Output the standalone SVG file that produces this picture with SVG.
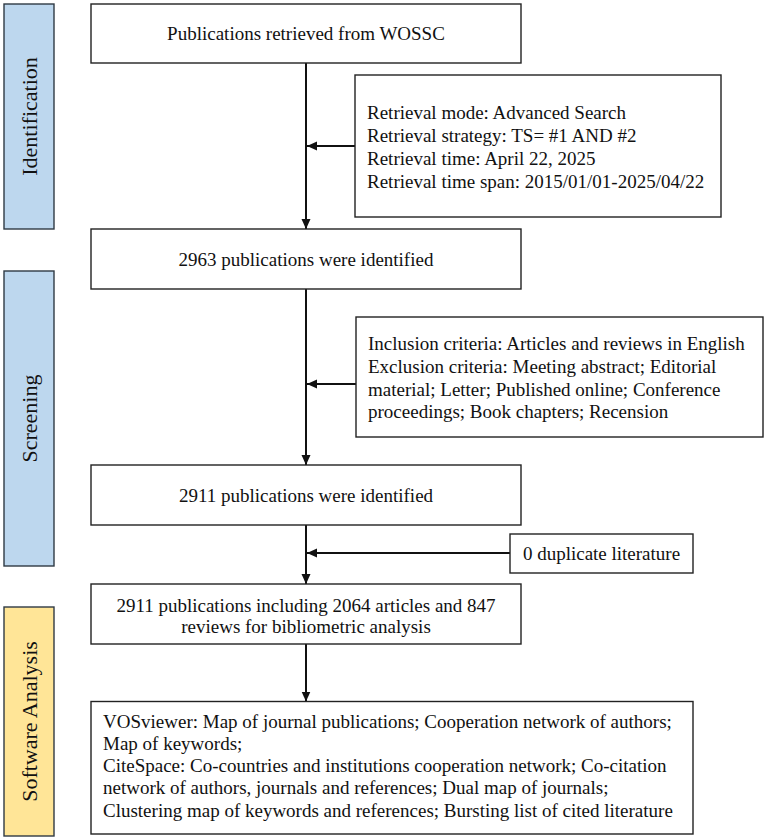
<svg xmlns="http://www.w3.org/2000/svg" width="767" height="838" viewBox="0 0 767 838">
<style>
text { font-family: "Liberation Serif", "Times New Roman", serif; font-size: 19px; fill: #111; }
.box { fill: #fff; stroke: #222; stroke-width: 1.4; }
.bar { stroke: #2f3a44; stroke-width: 1.4; }
.blue { fill: #bdd7ee; }
.yellow { fill: #ffe597; }
.lbl { font-size: 22px; text-anchor: middle; }
.c { text-anchor: middle; }
.conn { stroke: #111; stroke-width: 2; fill: none; marker-end: url(#ah); }
</style>
<defs>
<marker id="ah" markerUnits="userSpaceOnUse" markerWidth="10" markerHeight="10" viewBox="0 0 10 10" refX="10" refY="5" orient="auto">
<path d="M0,0.5 L10,5 L0,9.5 Z" fill="#111"/>
</marker>
</defs>
<rect width="767" height="838" fill="#fff"/>

<g id="stage-identification">
<rect class="bar blue" x="4" y="4" width="50" height="225"/>
<text class="lbl" transform="translate(36.5,116.5) rotate(-90)">Identification</text>
</g>
<g id="stage-screening">
<rect class="bar blue" x="4" y="271" width="50" height="295"/>
<text class="lbl" transform="translate(36.5,418.5) rotate(-90)">Screening</text>
</g>
<g id="stage-software">
<rect class="bar yellow" x="4" y="607" width="50" height="229"/>
<text class="lbl" transform="translate(36.5,721.5) rotate(-90)">Software Analysis</text>
</g>

<g id="connectors">
<line class="conn" x1="306" y1="63" x2="306" y2="229"/>
<line class="conn" x1="355" y1="146" x2="307" y2="146"/>
<line class="conn" x1="306" y1="289" x2="306" y2="465"/>
<line class="conn" x1="356" y1="384" x2="307" y2="384"/>
<line class="conn" x1="306" y1="525" x2="306" y2="584"/>
<line class="conn" x1="510" y1="553" x2="307" y2="553"/>
<line class="conn" x1="306" y1="644" x2="306" y2="701.5"/>
</g>

<g id="n-retrieved">
<rect class="box" x="91" y="4" width="430" height="59"/>
<text class="c" x="306" y="40">Publications retrieved from WOSSC</text>
</g>
<g id="n-retrieval-info">
<rect class="box" x="355" y="75" width="366" height="142"/>
<text x="367" y="119">Retrieval mode: Advanced Search</text>
<text x="367" y="142">Retrieval strategy: TS= #1 AND #2</text>
<text x="367" y="165">Retrieval time: April 22, 2025</text>
<text x="367" y="187.5">Retrieval time span: 2015/01/01-2025/04/22</text>
</g>
<g id="n-2963">
<rect class="box" x="91" y="229" width="430" height="60"/>
<text class="c" x="306" y="266">2963 publications were identified</text>
</g>
<g id="n-criteria">
<rect class="box" x="356" y="317" width="407" height="120"/>
<text x="368" y="350">Inclusion criteria: Articles and reviews in English</text>
<text x="368" y="373">Exclusion criteria: Meeting abstract; Editorial</text>
<text x="368" y="395.5">material; Letter; Published online; Conference</text>
<text x="368" y="418">proceedings; Book chapters; Recension</text>
</g>
<g id="n-2911">
<rect class="box" x="91" y="465" width="430" height="60"/>
<text class="c" x="306" y="502">2911 publications were identified</text>
</g>
<g id="n-duplicate">
<rect class="box" x="510" y="534" width="183" height="39"/>
<text class="c" x="601.5" y="560">0 duplicate literature</text>
</g>
<g id="n-final">
<rect class="box" x="91" y="584" width="430" height="60"/>
<text class="c" x="306" y="611.5">2911 publications including 2064 articles and 847</text>
<text class="c" x="306" y="633">reviews for bibliometric analysis</text>
</g>
<g id="n-software">
<rect class="box" x="91" y="701.5" width="602" height="132.5"/>
<text x="103" y="728">VOSviewer: Map of journal publications; Cooperation network of authors;</text>
<text x="103" y="750">Map of keywords;</text>
<text x="103" y="772">CiteSpace: Co-countries and institutions cooperation network; Co-citation</text>
<text x="103" y="794">network of authors, journals and references; Dual map of journals;</text>
<text x="103" y="816.5">Clustering map of keywords and references; Bursting list of cited literature</text>
</g>
</svg>
